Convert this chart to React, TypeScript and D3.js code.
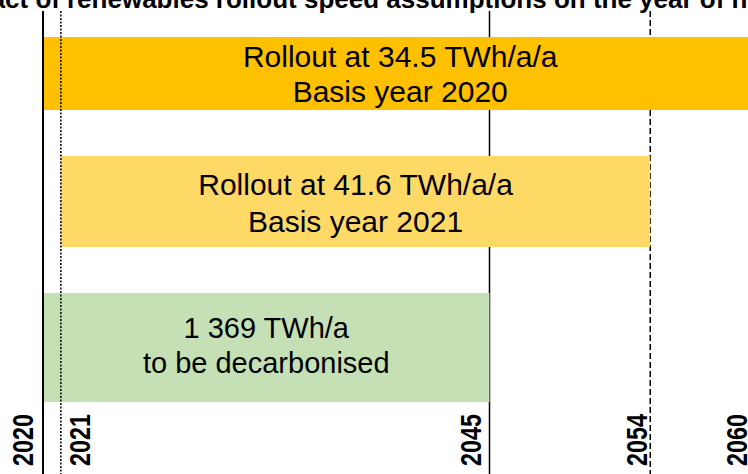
import * as d3 from 'd3';
import React, { useRef, useEffect } from 'react';

// marker years along the timeline
const years = [2020, 2021, 2045, 2054, 2060];
const lineStyles = ['solid', 'dotted', 'solid', 'dashed', 'solid'];

// the three scenario bars
const barStart = [2020, 2021, 2020];
const barEnd = [2060, 2054, 2045];
const barLine1 = ['Rollout at 34.5 TWh/a/a', 'Rollout at 41.6 TWh/a/a', '1 369 TWh/a'];
const barLine2 = ['Basis year 2020', 'Basis year 2021', 'to be decarbonised'];
const barColors = ['#FFC000', '#FFD966', '#C5E0B4'];

const titleStart = 'Impact of';
const titleRest = 'renewables rollout speed assumptions on the year of net-zero';

const width = 748;
const height = 474;
const font = '"Liberation Sans", Arial, sans-serif';

// row layout (px) for each bar
const rowTop = [37, 156, 293];
const rowBottom = [110, 247, 402];
const textSize = [30, 30, 29];
const line1Dy = [-6.5, -6.5, -9.5];
const lineGap = [35, 37, 35];

function App() {
  const ref = useRef();

  useEffect(() => {
    const svg = d3.select(ref.current);
    svg.selectAll('*').remove();
    svg.attr('width', width).attr('height', height);

    const x = d3.scaleLinear().domain([2020, 2045]).range([43, 489.5]);

    // title, cut off at the top
    svg.append('text')
      .attr('x', 60).attr('y', 8)
      .attr('text-anchor', 'end')
      .attr('font-family', font).attr('font-weight', 'bold').attr('font-size', 26)
      .text(titleStart);
    svg.append('text')
      .attr('x', 67).attr('y', 8)
      .attr('font-family', font).attr('font-weight', 'bold').attr('font-size', 26)
      .text(titleRest);

    const dash = { solid: null, dotted: '2,1.5', dashed: '6,3' };
    const strokeW = [2, 1.5, 1.5, 1.5, 1.5];
    // 2020/2021 lines sit on top of the bars, the others behind
    const onTop = (yr) => yr <= 2021;
    const drawLine = (g, yr, i) => {
      g.append('line')
        .attr('x1', x(yr)).attr('x2', x(yr))
        .attr('y1', 11).attr('y2', height)
        .attr('stroke', '#000')
        .attr('stroke-width', strokeW[i])
        .attr('stroke-dasharray', dash[lineStyles[i]]);
    };

    const back = svg.append('g');
    years.forEach((yr, i) => { if (!onTop(yr)) drawLine(back, yr, i); });

    // bars
    const bars = svg.append('g');
    barStart.forEach((s, i) => {
      bars.append('rect')
        .attr('x', x(s))
        .attr('y', rowTop[i])
        .attr('width', x(barEnd[i]) - x(s))
        .attr('height', rowBottom[i] - rowTop[i])
        .attr('fill', barColors[i]);
    });

    const front = svg.append('g');
    years.forEach((yr, i) => { if (onTop(yr)) drawLine(front, yr, i); });

    // bar labels
    barStart.forEach((s, i) => {
      const cx = (x(s) + x(barEnd[i])) / 2;
      const cy = (rowTop[i] + rowBottom[i]) / 2;
      svg.append('text')
        .attr('x', cx).attr('y', cy + line1Dy[i])
        .attr('text-anchor', 'middle')
        .attr('font-family', font).attr('font-size', textSize[i])
        .attr('fill', '#000')
        .text(barLine1[i]);
      svg.append('text')
        .attr('x', cx).attr('y', cy + line1Dy[i] + lineGap[i])
        .attr('text-anchor', 'middle')
        .attr('font-family', font).attr('font-size', textSize[i])
        .attr('fill', '#000')
        .text(barLine2[i]);
    });

    // year labels, rotated
    const labelDx = { 2020: -10, 2021: 29, 2045: -9, 2054: -3, 2060: -10 };
    years.forEach((yr) => {
      svg.append('text')
        .attr('transform', `translate(${x(yr) + labelDx[yr]},466) rotate(-90) scale(0.78,1)`)
        .attr('font-family', font).attr('font-weight', 'bold').attr('font-size', 30)
        .attr('fill', '#000')
        .text(yr);
    });
  });

  return (
    <svg ref={ref} style={{ position: 'absolute', left: 0, top: 0, background: '#fff' }}></svg>
  );
}

export default App;
